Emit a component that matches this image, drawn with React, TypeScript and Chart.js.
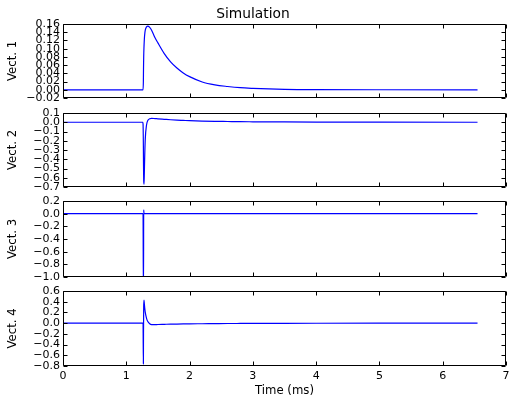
import React, { useEffect, useRef } from 'react';
import { Chart, registerables } from 'chart.js';

Chart.register(...registerables);

// ---- data ----
const time = [
  0, 1.26, 1.265, 1.27, 1.272, 1.275, 1.28, 1.285, 1.29, 1.3, 1.32, 1.34, 1.37, 1.4, 1.45,
  1.5, 1.6, 1.7, 1.8, 1.9, 2.0, 2.2, 2.4, 2.6, 2.8, 3.0, 3.5, 4.0, 5.0, 6.55,
];
const vect1 = [
  0, 0, 0, 0.02, 0.05, 0.08, 0.105, 0.122, 0.133, 0.145, 0.153, 0.155, 0.152, 0.145, 0.128,
  0.114, 0.088, 0.068, 0.053, 0.041, 0.032, 0.019, 0.012, 0.008, 0.005, 0.0035, 0.0012, 0.0004, 0.0001, 0,
];
const vect2 = [
  0, 0, -0.02, -0.25, -0.45, -0.62, -0.67, -0.55, -0.4, -0.18, -0.03, 0.02, 0.037, 0.042, 0.04,
  0.037, 0.032, 0.027, 0.023, 0.02, 0.017, 0.013, 0.01, 0.008, 0.006, 0.005, 0.003, 0.002, 0.0005, 0,
];
const vect3 = [
  0, 0, 0, -1.2, -1.2, 0.06, 0, 0, 0, 0, 0, 0, 0, 0, 0,
  0, 0, 0, 0, 0, 0, 0, 0, 0, 0, 0, 0, 0, 0, 0,
];
const vect4 = [
  0, 0, 0, -0.76, -0.2, 0.3, 0.43, 0.36, 0.3, 0.2, 0.09, 0.03, -0.012, -0.026, -0.027,
  -0.025, -0.022, -0.019, -0.017, -0.015, -0.013, -0.011, -0.009, -0.007, -0.006, -0.005, -0.003, -0.002, -0.001, 0,
];

const xTicks = [0, 1, 2, 3, 4, 5, 6, 7];
const yTicks1 = [-0.02, 0, 0.02, 0.04, 0.06, 0.08, 0.1, 0.12, 0.14, 0.16];
const yTicks2 = [-0.7, -0.6, -0.5, -0.4, -0.3, -0.2, -0.1, 0, 0.1];
const yTicks3 = [-1.0, -0.8, -0.6, -0.4, -0.2, 0, 0.2];
const yTicks4 = [-0.8, -0.6, -0.4, -0.2, 0, 0.2, 0.4, 0.6];
const yDecimals = [2, 1, 1, 1];
const yLabels = ['Vect. 1', 'Vect. 2', 'Vect. 3', 'Vect. 4'];
const chartTitle = 'Simulation';
const xTitle = 'Time (ms)';

const FONT = "'DejaVu Sans', sans-serif";
const LINE_COLOR = '#0000ff';

const framePlugin = {
  id: 'mplFrame',
  afterDatasetsDraw(chart: any) {
    const { ctx, chartArea: a, scales } = chart;
    const L = Math.round(a.left) + 0.5;
    const R = Math.round(a.right) - 0.5;
    const T = Math.round(a.top) + 0.5;
    const B = Math.round(a.bottom) - 0.5;
    ctx.save();
    ctx.strokeStyle = '#000';
    ctx.lineWidth = 1;
    ctx.beginPath();
    ctx.rect(L, T, R - L, B - T);
    ctx.stroke();
    const len = 4;
    ctx.beginPath();
    for (const t of scales.x.ticks) {
      const px = Math.round(scales.x.getPixelForValue(t.value)) + 0.5;
      ctx.moveTo(px, T);
      ctx.lineTo(px, T + len);
      ctx.moveTo(px, B);
      ctx.lineTo(px, B - len);
    }
    for (const t of scales.y.ticks) {
      const py = Math.round(scales.y.getPixelForValue(t.value)) + 0.5;
      ctx.moveTo(L, py);
      ctx.lineTo(L + len, py);
      ctx.moveTo(R, py);
      ctx.lineTo(R - len, py);
    }
    ctx.stroke();
    ctx.restore();
  },
};

const fmt = (v: number, d: number) => {
  const s = Number(v).toFixed(d);
  return s.replace('-', '\u2212');
};

type PanelProps = {
  values: number[];
  ticks: number[];
  decimals: number;
  label: string;
  top: number;
  height: number;
  showTitle?: boolean;
  showX?: boolean;
};

function Panel({ values, ticks, decimals, label, top, height, showTitle, showX }: PanelProps) {
  const ref = useRef<HTMLCanvasElement | null>(null);
  useEffect(() => {
    if (!ref.current) return;
    const points = time.map((t, i) => ({ x: t, y: values[i] }));
    const chart = new Chart(ref.current, {
      type: 'line',
      data: {
        datasets: [
          {
            data: points,
            borderColor: LINE_COLOR,
            borderWidth: 1.2,
            pointRadius: 0,
            cubicInterpolationMode: 'monotone',
            fill: false,
          },
        ],
      },
      options: {
        animation: false,
        responsive: false,
        devicePixelRatio: 1,
        layout: {
          padding: { top: showTitle ? 0 : 12, bottom: showX ? 0 : 12, left: 0, right: 14 },
        },
        plugins: {
          legend: { display: false },
          tooltip: { enabled: false },
          title: {
            display: !!showTitle,
            text: chartTitle,
            color: '#000',
            font: { family: FONT, size: 13.8, weight: 'normal', lineHeight: 1.2 },
            padding: { top: 5.9, bottom: 1.54 },
          },
        },
        scales: {
          x: {
            type: 'linear',
            min: 0,
            max: 7,
            display: !!showX,
            afterBuildTicks: (s: any) => {
              s.ticks = xTicks.map((v) => ({ value: v }));
            },
            afterFit: (s: any) => {
              if (showX) s.height = 38;
            },
            grid: { display: false, drawTicks: false },
            border: { display: false },
            ticks: {
              color: '#000',
              font: { family: FONT, size: 11 },
              padding: 4,
              maxRotation: 0,
              autoSkip: false,
              callback: (v: any) => String(v),
            },
            title: {
              display: !!showX,
              text: xTitle,
              color: '#000',
              font: { family: FONT, size: 11.7 },
              padding: { top: 0, bottom: 6 },
            },
          },
          y: {
            type: 'linear',
            min: ticks[0],
            max: ticks[ticks.length - 1],
            afterBuildTicks: (s: any) => {
              s.ticks = ticks.map((v) => ({ value: v }));
            },
            afterFit: (s: any) => {
              s.width = 63;
            },
            grid: { display: false, drawTicks: false },
            border: { display: false },
            ticks: {
              color: '#000',
              font: { family: FONT, size: 11 },
              padding: 3,
              autoSkip: false,
              callback: (v: any) => fmt(v, decimals),
            },
            title: {
              display: true,
              text: label,
              color: '#000',
              font: { family: FONT, size: 11.7 },
              padding: { top: 5.5, bottom: 0 },
            },
          },
        },
      } as any,
      plugins: [framePlugin],
    });
    return () => chart.destroy();
  }, []);
  return (
    <canvas
      ref={ref}
      width={520}
      height={height}
      style={{ position: 'absolute', left: 0, top, width: 520, height }}
    />
  );
}

export default function App() {
  return (
    <div
      style={{
        position: 'absolute',
        left: 0,
        top: 0,
        width: 509,
        height: 404,
        overflow: 'hidden',
        background: '#fff',
      }}
    >
      <Panel values={vect1} ticks={yTicks1} decimals={yDecimals[0]} label={yLabels[0]} top={0} height={110} showTitle />
      <Panel values={vect2} ticks={yTicks2} decimals={yDecimals[1]} label={yLabels[1]} top={101} height={98} />
      <Panel values={vect3} ticks={yTicks3} decimals={yDecimals[2]} label={yLabels[2]} top={189} height={100} />
      <Panel values={vect4} ticks={yTicks4} decimals={yDecimals[3]} label={yLabels[3]} top={279} height={125} showX />
    </div>
  );
}
